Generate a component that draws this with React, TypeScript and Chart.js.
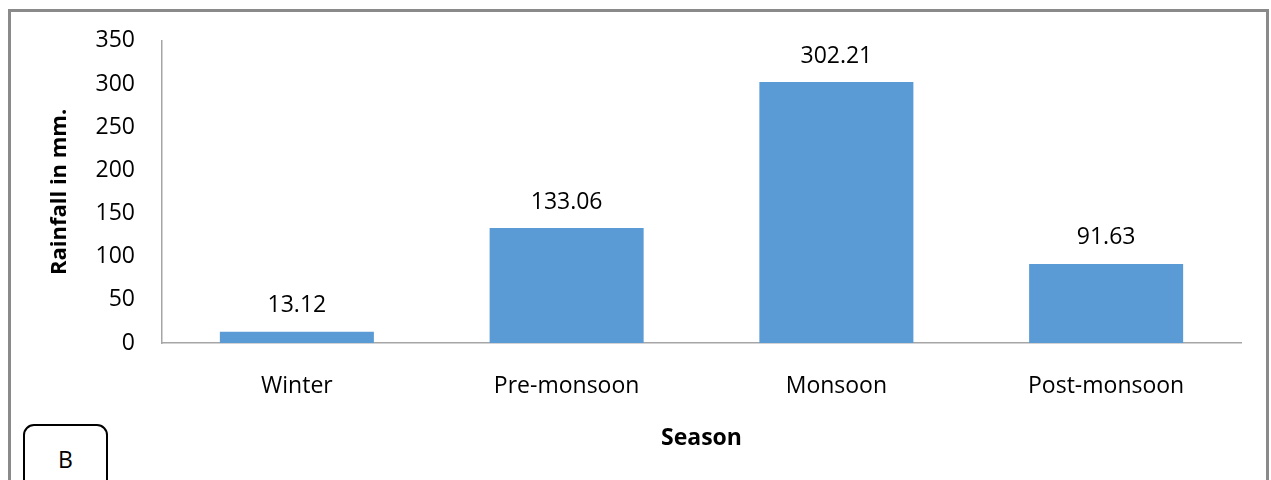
import React, { useEffect, useRef } from "react";
import { Chart, registerables } from "chart.js";

Chart.register(...registerables);

// Seasonal rainfall (mm)
const seasons: string[] = ["Winter", "Pre-monsoon", "Monsoon", "Post-monsoon"];
const rainfall: number[] = [13.12, 133.06, 302.21, 91.63];
const yTicks: number[] = [0, 50, 100, 150, 200, 250, 300, 350];

const FONT = "'Open Sans', 'Noto Sans', sans-serif";
const BAR_COLOR = "#5B9BD5";
const AXIS_COLOR = "#A6A6A6";

// Writes each bar's value above it
const valueLabels = {
  id: "valueLabels",
  afterDatasetsDraw(chart: any) {
    const { ctx } = chart;
    const meta = chart.getDatasetMeta(0);
    ctx.save();
    ctx.font = `23px ${FONT}`;
    ctx.fillStyle = "#000";
    ctx.textAlign = "center";
    ctx.textBaseline = "middle";
    meta.data.forEach((bar: any, i: number) => {
      ctx.fillText(rainfall[i].toFixed(2), bar.x, bar.y - 26);
    });
    ctx.restore();
  },
};

export default function App() {
  const canvasRef = useRef<HTMLCanvasElement | null>(null);

  useEffect(() => {
    if (!canvasRef.current) return;
    const chart = new Chart(canvasRef.current, {
      type: "bar",
      data: {
        labels: seasons,
        datasets: [
          {
            data: rainfall,
            backgroundColor: BAR_COLOR,
            borderWidth: 0,
            barPercentage: 0.571,
            categoryPercentage: 1,
          },
        ],
      },
      options: {
        responsive: false,
        animation: false,
        layout: { padding: { left: 0, right: 30, top: 40, bottom: 0 } },
        plugins: {
          legend: { display: false },
          tooltip: { enabled: false },
        },
        scales: {
          x: {
            grid: { display: false, drawTicks: false },
            border: { display: true, color: AXIS_COLOR, width: 1.5 },
            ticks: {
              color: "#000",
              font: { family: FONT, size: 23 },
              padding: 30,
              maxRotation: 0,
            },
            title: {
              display: true,
              text: "Season",
              color: "#000",
              font: { family: FONT, size: 23, weight: "bold" },
              padding: { top: 0, bottom: 28 },
            },
            afterFit(scale: any) {
              scale.height = 137;
            },
          },
          y: {
            min: 0,
            max: 350,
            afterBuildTicks(scale: any) {
              scale.ticks = yTicks.map((v) => ({ value: v }));
            },
            grid: { display: false, drawTicks: false },
            border: { display: true, color: AXIS_COLOR, width: 1.5 },
            ticks: {
              color: "#000",
              font: { family: FONT, size: 23 },
              padding: 27,
            },
            title: {
              display: true,
              text: "Rainfall in mm.",
              color: "#000",
              font: { family: FONT, size: 22, weight: "bold" },
              padding: { top: 47, bottom: 0 },
            },
            afterFit(scale: any) {
              scale.width = 162;
            },
          },
        },
      },
      plugins: [valueLabels],
    });
    return () => chart.destroy();
  }, []);

  return (
    <div
      style={{
        position: "fixed",
        left: 0,
        top: 0,
        width: 1271,
        height: 480,
        background: "#fff",
        overflow: "hidden",
      }}
    >
      <div
        style={{
          position: "absolute",
          left: 8,
          top: 9,
          width: 1261,
          height: 520,
          boxSizing: "border-box",
          border: "3px solid #8A8A8A",
        }}
      />
      <canvas
        ref={canvasRef}
        width={1271}
        height={480}
        style={{ position: "absolute", left: 0, top: 0 }}
      />
      <div
        style={{
          position: "absolute",
          left: 23,
          top: 424,
          width: 85,
          height: 80,
          boxSizing: "border-box",
          border: "2px solid #000",
          borderRadius: 11,
          background: "#fff",
          fontFamily: FONT,
          fontSize: 23,
          color: "#000",
          textAlign: "center",
          lineHeight: "66px",
        }}
      >
        B
      </div>
    </div>
  );
}
